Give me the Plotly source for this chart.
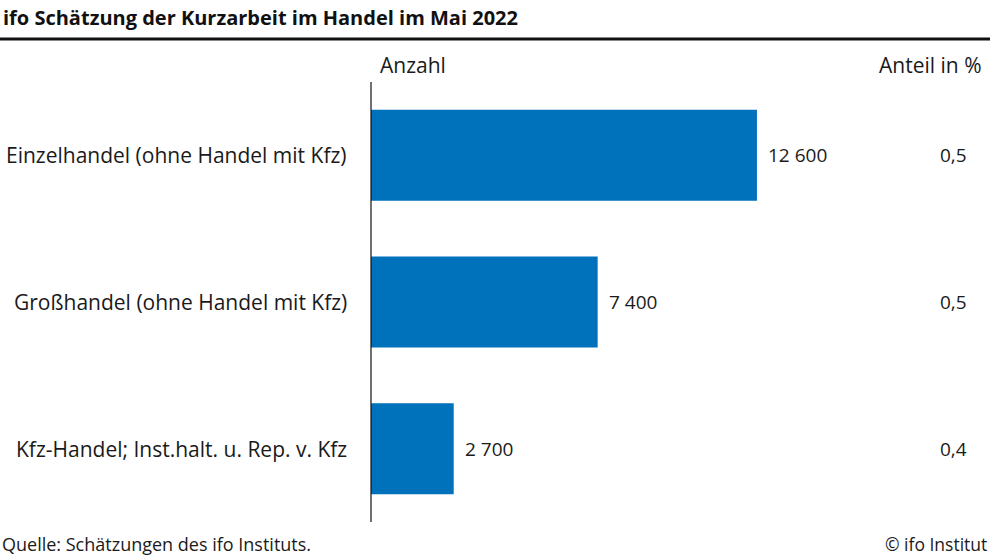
import plotly.graph_objects as go

categories = ["Einzelhandel (ohne Handel mit Kfz)",
              "Großhandel (ohne Handel mit Kfz)",
              "Kfz-Handel; Inst.halt. u. Rep. v. Kfz"]
anzahl = [12600, 7400, 2700]
anteil = [0.5, 0.5, 0.4]

W, H = 990, 557
L, R, T, B = 371, 0, 82, 35
pw = W - L - R
xmax = pw / 0.03063

FONT = "Open Sans"
TXT = "#1a1a1a"
FS_NUM = 19
FS_LBL = 21

def fmt_num(v):
    return f"{v:,}".replace(",", " ")

def fmt_pct(v):
    return f"{v:.1f}".replace(".", ",")

fig = go.Figure()
fig.add_trace(go.Bar(
    y=categories, x=anzahl, orientation="h",
    marker=dict(color="#0071bb", line=dict(width=0)),
    hoverinfo="skip",
))

ann = []
for c, v, p in zip(categories, anzahl, anteil):
    ann.append(dict(x=v, y=c, xref="x", yref="y", text=fmt_num(v),
                    xanchor="left", yanchor="middle", xshift=9, showarrow=False,
                    font=dict(family=FONT, size=FS_NUM, color=TXT)))
    ann.append(dict(x=(969 - L) / pw, y=c, xref="paper", yref="y", text=fmt_pct(p),
                    xanchor="right", yanchor="middle", showarrow=False,
                    font=dict(family=FONT, size=FS_NUM, color=TXT)))
    ann.append(dict(x=(349 - L) / pw, y=c, xref="paper", yref="y", text=c,
                    xanchor="right", yanchor="middle", showarrow=False,
                    font=dict(family=FONT, size=FS_LBL, color=TXT)))

def px_x(px):
    return (px - L) / pw

def px_y(py):
    return 1 - (py - T) / (H - T - B)

ann += [
    dict(x=px_x(1), y=px_y(18), xref="paper", yref="paper", text="<b>ifo Schätzung der Kurzarbeit im Handel im Mai 2022</b>",
         xanchor="left", yanchor="middle", showarrow=False,
         font=dict(family=FONT, size=20, color="#111111")),
    dict(x=px_x(378), y=px_y(65), xref="paper", yref="paper", text="Anzahl",
         xanchor="left", yanchor="middle", showarrow=False,
         font=dict(family=FONT, size=FS_LBL, color=TXT)),
    dict(x=px_x(984), y=px_y(65), xref="paper", yref="paper", text="Anteil in %",
         xanchor="right", yanchor="middle", showarrow=False,
         font=dict(family=FONT, size=FS_LBL, color=TXT)),
    dict(x=px_x(0), y=px_y(544), xref="paper", yref="paper", text="Quelle: Schätzungen des ifo Instituts.",
         xanchor="left", yanchor="middle", showarrow=False,
         font=dict(family=FONT, size=18, color=TXT)),
    dict(x=px_x(989), y=px_y(544), xref="paper", yref="paper", text="© ifo Institut",
         xanchor="right", yanchor="middle", showarrow=False,
         font=dict(family=FONT, size=17.5, color=TXT)),
]

shapes = [
    dict(type="line", xref="paper", yref="paper", x0=px_x(0), x1=px_x(990),
         y0=px_y(39), y1=px_y(39), line=dict(color="#111111", width=3)),
    dict(type="line", xref="paper", yref="paper", x0=0, x1=0,
         y0=0, y1=1, line=dict(color="#111111", width=1.2)),
]

fig.update_layout(
    width=W, height=H,
    margin=dict(l=L, r=R, t=T, b=B, pad=0),
    paper_bgcolor="white", plot_bgcolor="white",
    showlegend=False,
    bargap=0.379,
    xaxis=dict(range=[0, xmax], visible=False, fixedrange=True),
    yaxis=dict(categoryorder="array", categoryarray=categories[::-1],
               range=[-0.5, 2.5], showticklabels=False, showgrid=False,
               zeroline=False, showline=False, ticks="", fixedrange=True),
    annotations=ann, shapes=shapes,
    font=dict(family=FONT),
)

fig.write_html("out.html", config={"displayModeBar": False})

# remove default browser page margin so the figure sits at the window's top-left
with open("out.html", "r", encoding="utf-8") as f:
    html = f.read()
html = html.replace("<head>", "<head><style>html,body{margin:0;padding:0;overflow:hidden;}</style>", 1)
with open("out.html", "w", encoding="utf-8") as f:
    f.write(html)
